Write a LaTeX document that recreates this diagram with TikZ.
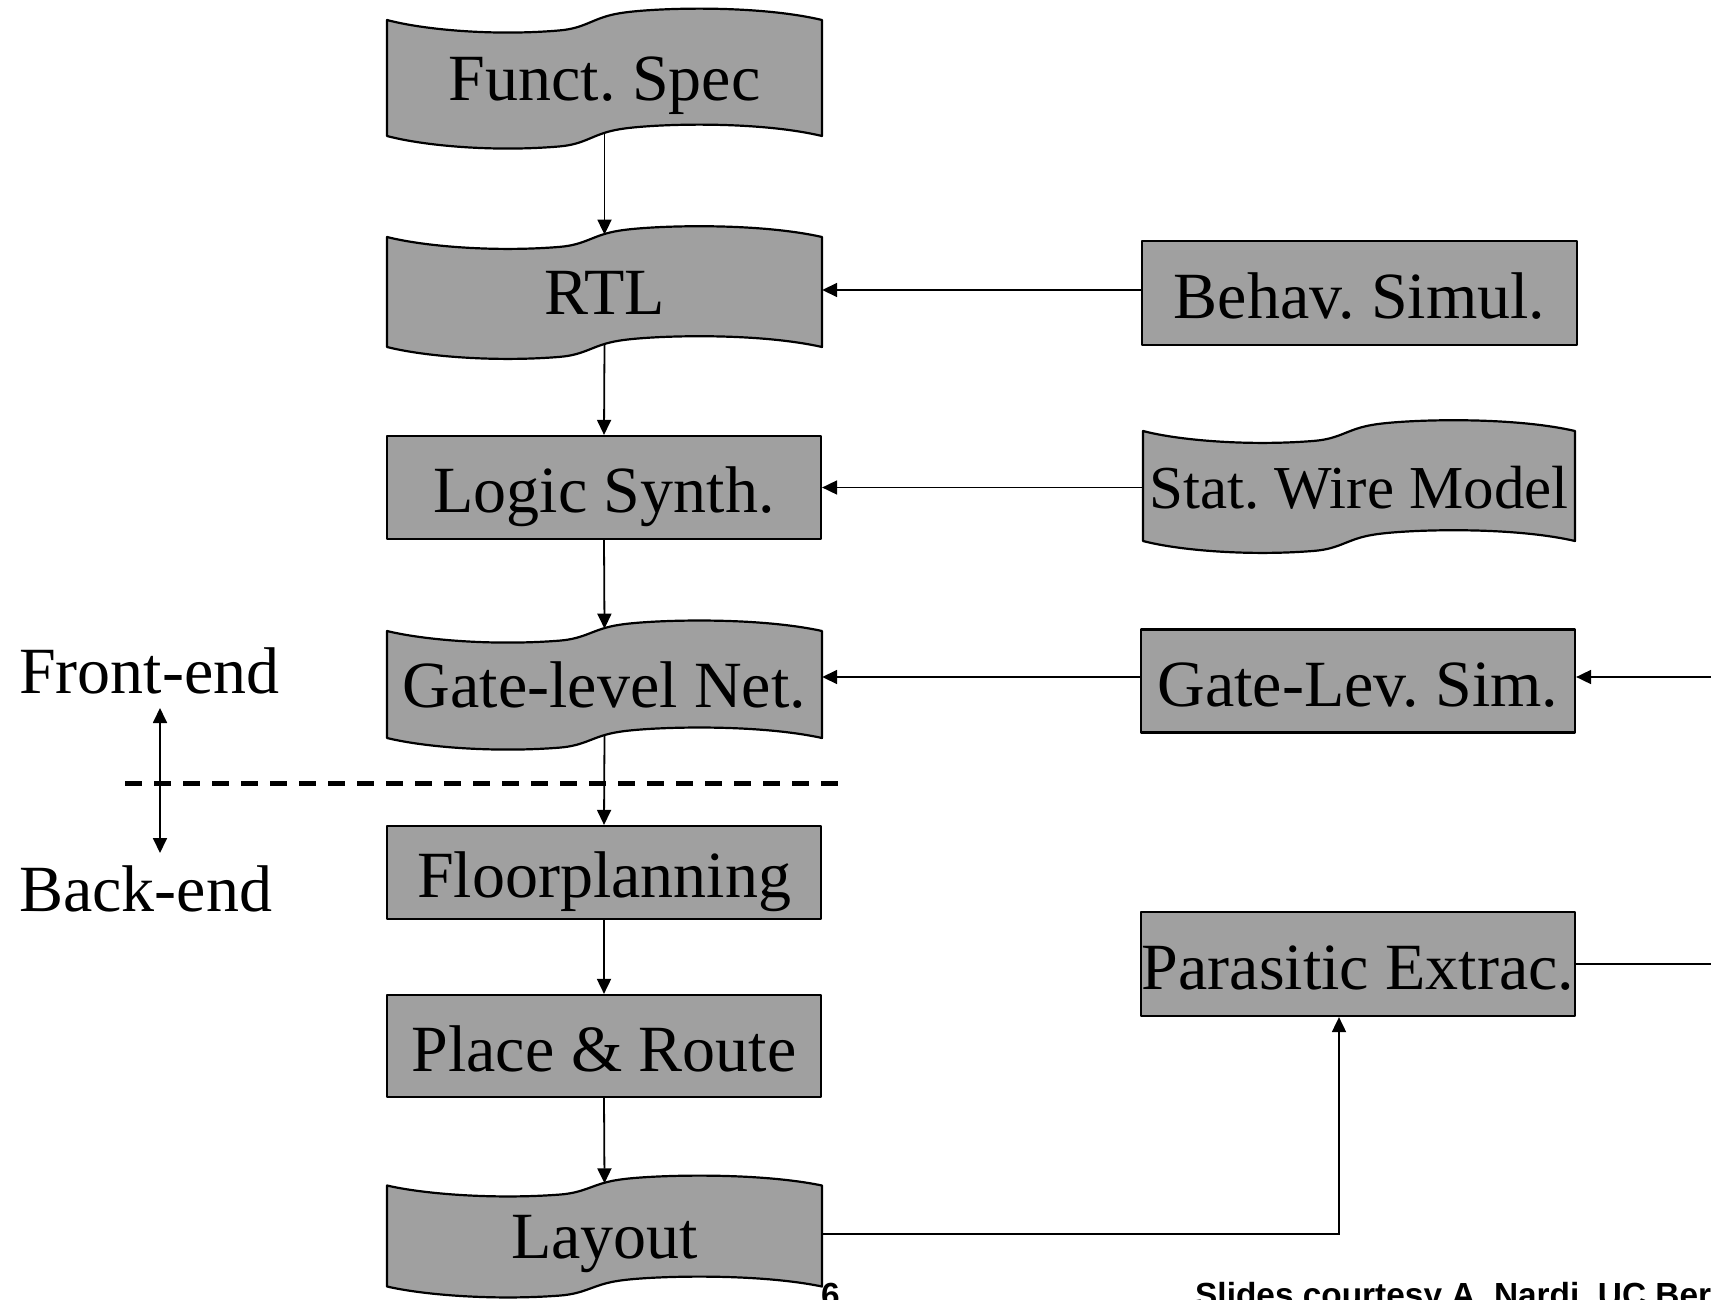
\documentclass[tikz,border=0pt]{standalone}
\usepackage{fontspec}
\setmainfont{Liberation Serif}
\newfontfamily\notesans{Liberation Sans}
\usetikzlibrary{arrows.meta}
\definecolor{boxgray}{RGB}{160,160,160}
\frenchspacing
\newcommand{\diagfont}{\fontsize{66pt}{70pt}\selectfont}
\newcommand{\notefont}{\notesans\bfseries\fontsize{33.4pt}{36pt}\selectfont}
\tikzset{
  boxline/.style={draw=black, line width=2.2pt, fill=boxgray, line join=round},
  rectbox/.style={boxline, rectangle, minimum width=434pt, inner sep=0pt,
    text height=50pt, text depth=0pt, font=\diagfont},
  doctext/.style={rectangle, inner sep=0pt, text height=50pt, text depth=0pt, font=\diagfont},
  conn/.style={line width=1.8pt, -{Triangle[length=15pt,width=14pt]}},
  dblconn/.style={line width=1.8pt, {Triangle[length=15pt,width=14pt]}-{Triangle[length=15pt,width=14pt]}},
  divider/.style={line width=5pt, dash pattern=on 17pt off 12pt},
  sidelabel/.style={font=\diagfont, anchor=base west, inner sep=0pt},
  notelabel/.style={font=\notefont, anchor=base west, inner sep=0pt}
}
% wave-shaped document: cx, cy, edge height, half width
\newcommand{\docshape}[4]{%
  \begin{scope}[shift={(#1,#2)}, yscale=#3]
    \draw[boxline] (-#4,-0.5)
      .. controls (-180,-0.414) and (-110,-0.362) .. (-45,-0.41)
      .. controls (-18,-0.43) and (-12,-0.52) .. (15,-0.558)
      .. controls (45,-0.603) and (150,-0.638) .. (#4,-0.5)
      -- (#4,0.5)
      .. controls (150,0.362) and (45,0.397) .. (15,0.442)
      .. controls (-12,0.48) and (-18,0.57) .. (-45,0.59)
      .. controls (-110,0.638) and (-180,0.586) .. (-#4,0.5)
      -- cycle;
  \end{scope}}
% name, cx, cy, edge height, half width, text
\newcommand{\docnode}[6]{%
  \docshape{#2}{#3}{#4}{#5}
  \node[doctext, minimum height=#4pt, minimum width={2*#5pt}] (#1) at (#2,{#3-0.02*#4}) {#6};}

\begin{document}
\begin{tikzpicture}[x=1pt,y=-1pt]
\useasboundingbox (0,0) rectangle (1711,1300);
\clip (0,0) rectangle (1711,1300);

% left column
\docnode{funct}{604.5}{78}{116}{217.5}{Funct. Spec}
\docnode{rtl}{604.5}{292}{110}{217.5}{RTL}
\node[rectbox, minimum height=103pt] (logic) at (604,487.5) {Logic Synth.};
\docnode{gatenet}{604.5}{684.5}{107}{217.5}{Gate-level Net.}
\node[rectbox, minimum height=93pt] (floor) at (604,872.5) {Floorplanning};
\node[rectbox, minimum height=102pt] (place) at (604,1046) {Place \& Route};
\docnode{layout}{604.5}{1236}{101}{217.5}{Layout}

% right column
\node[rectbox, minimum height=104pt, minimum width=435pt] (behav) at (1359.5,293) {Behav. Simul.};
\docnode{statwire}{1359}{486}{110}{216}{\fontsize{61pt}{64pt}\selectfont Stat. Wire Model}
\node[rectbox, minimum height=103pt] (glsim) at (1358,681) {Gate-Lev. Sim.};
\node[rectbox, minimum height=104pt] (parasitic) at (1358,964) {Parasitic Extrac.};

% side labels
\node[sidelabel] (frontend) at (19,693) {Front-end};
\node[sidelabel] (backend) at (19,911) {Back-end};
\coordinate (updnA) at (160,708);
\coordinate (updnB) at (160,853);
\draw[dblconn] (updnA) -- (updnB);
\coordinate (dashA) at (125,783);
\coordinate (dashB) at (840,783);
\draw[divider] (dashA) -- (dashB);

% vertical flow
\draw[conn] (funct.south) -- (rtl.north);
\draw[conn] (rtl.south) -- (logic.north);
\draw[conn] (logic.south) -- (gatenet.north);
\draw[conn] (gatenet.south) -- (floor.north);
\draw[conn] (floor.south) -- (place.north);
\draw[conn] (place.south) -- (layout.north);

% horizontal feeds
\draw[conn] ([yshift=3pt]behav.west) -- ([yshift=3pt]behav.west -| rtl.east);
\draw[conn] (logic.east -| statwire.west) -- (logic.east);
\draw[conn] ([yshift=4pt]glsim.west) -- ([yshift=4pt]glsim.west -| gatenet.east);
\draw[conn] (layout.east) -| ([xshift=-19pt]parasitic.south);
\coordinate (offA) at (1760,964);
\coordinate (offB) at (1760,677);
\draw[conn] (parasitic.east) -- (offA) -- (offB) -- ([yshift=4pt]glsim.east);

% footer
\node[notelabel] (pagenum) at (821,1306) {6};
\node[notelabel] (credit) at (1195,1306) {Slides courtesy A. Nardi, UC Berkeley};
\end{tikzpicture}
\end{document}
